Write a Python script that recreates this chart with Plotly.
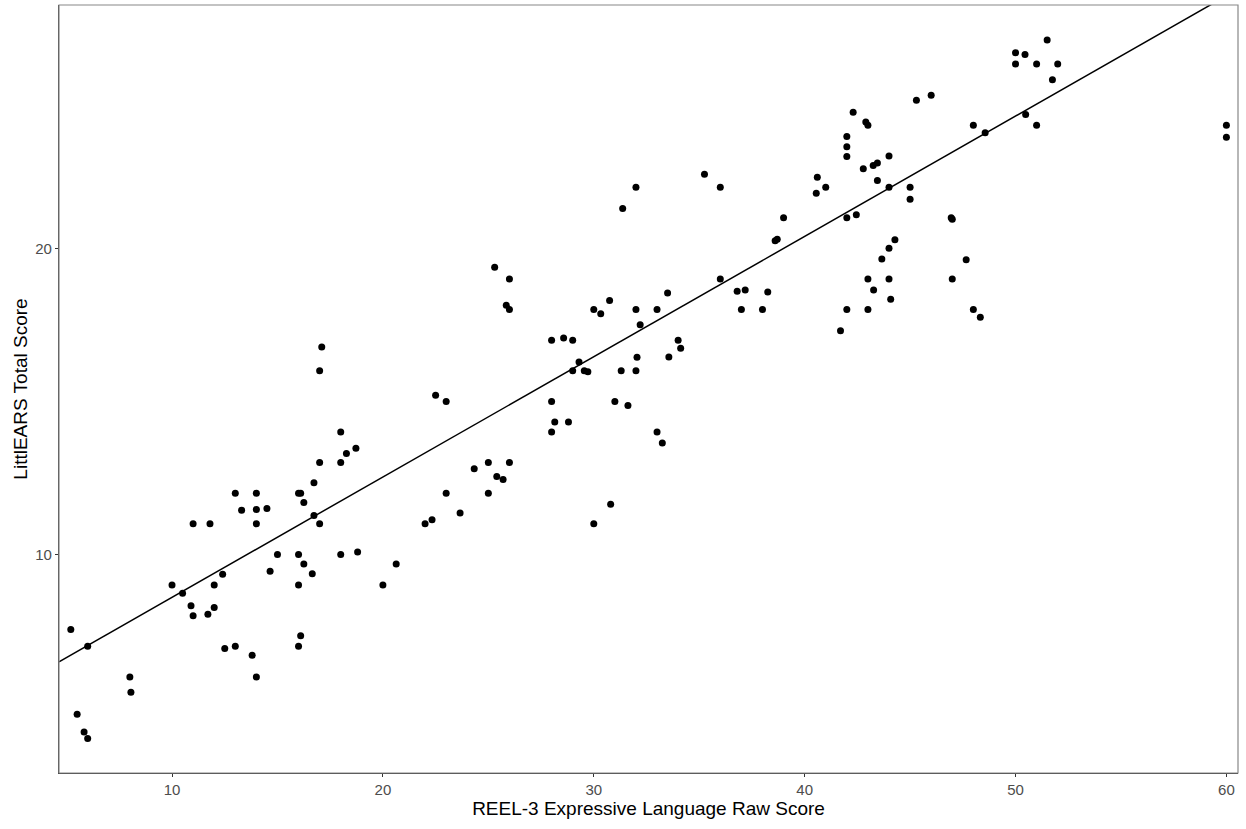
import numpy as np
import plotly.graph_objects as go

reel_x = [5.2, 6.0, 5.5, 5.83, 6.0, 8.0, 8.05, 10.0, 10.5, 10.9, 11.0, 11.0, 11.8, 11.7, 12.0, 12.0,
          12.4, 12.5, 13.0, 13.0, 13.3, 13.8, 14.0, 14.0, 14.0, 14.0, 14.5, 14.65, 15.0, 16.0, 16.1,
          16.25, 16.0, 16.25, 16.0, 16.1, 16.0, 16.65, 16.73, 16.73, 17.0, 17.0, 18.0, 18.0, 18.27,
          18.72, 18.0, 18.8, 20.0, 20.63, 17.1, 17.0,
          22.0, 22.33, 23.0, 23.66, 24.33, 25.0, 25.0, 25.4, 25.7, 26.0, 28.0, 28.15, 28.8, 33.0,
          33.25, 30.0, 30.8,
          22.5, 23.0, 28.0, 25.3, 26.0, 25.85, 26.0, 28.0, 28.57, 29.0, 29.3, 29.0, 29.55, 29.72,
          30.0, 30.33, 30.75, 31.37, 32.0, 32.0, 32.2, 32.05, 32.0, 31.3, 31.0, 31.62, 33.0, 33.5,
          34.0, 34.12, 33.56, 35.25, 36.0, 36.0, 36.8, 37.18, 37.0, 38.0, 38.25, 38.6, 38.7, 39.0,
          40.6, 40.55,
          41.0, 42.3, 42.0, 42.0, 42.0, 42.9, 43.0, 42.78, 43.25, 43.45, 44.0, 43.45, 44.0, 42.0,
          42.45, 45.0, 45.0, 45.3, 46.0, 44.28, 44.0, 43.66, 43.0, 44.0, 43.27, 44.08, 42.0, 43.0,
          41.7, 46.95, 47.0, 47.0, 47.66, 48.0, 48.33, 48.0, 48.56, 50.0, 50.0, 50.45, 51.0, 51.5,
          52.0, 51.75, 50.48, 51.0, 60.0, 60.0]

littlears_y = [7.55, 7.0, 4.78, 4.2, 3.99, 6.0, 5.5, 9.0, 8.73, 8.32, 8.0, 11.0, 11.0, 8.05, 8.27, 9.0,
               9.35, 6.93, 7.0, 12.0, 11.44, 6.71, 6.0, 12.0, 11.47, 11.0, 11.5, 9.45, 10.0, 12.0, 12.0,
               11.7, 10.0, 9.69, 9.0, 7.34, 7.0, 9.37, 12.34, 11.27, 13.0, 11.0, 14.0, 13.0, 13.3,
               13.47, 10.0, 10.08, 9.0, 9.69, 16.78, 16.0,
               11.0, 11.13, 12.0, 11.35, 12.8, 13.0, 12.0, 12.55, 12.45, 13.0, 14.0, 14.33, 14.33, 14.0,
               13.64, 11.0, 11.64,
               15.2, 15.0, 15.0, 19.38, 19.0, 18.14, 18.0, 17.0, 17.07, 17.0, 16.29, 16.0, 16.0, 15.97,
               18.0, 17.86, 18.3, 21.3, 22.0, 18.0, 17.5, 16.44, 16.0, 16.0, 15.0, 14.87, 18.0, 18.54,
               17.0, 16.74, 16.45, 22.42, 22.0, 19.0, 18.6, 18.64, 18.0, 18.0, 18.57, 20.25, 20.3, 21.0,
               22.32, 21.8,
               22.0, 24.45, 23.65, 23.32, 23.0, 24.13, 24.02, 22.6, 22.71, 22.79, 23.02, 22.22, 22.0, 21.0,
               21.1, 22.0, 21.6, 24.84, 25.0, 20.28, 20.0, 19.65, 19.0, 19.0, 18.64, 18.34, 18.0, 18.0,
               17.31, 21.0, 20.95, 19.0, 19.63, 18.0, 17.75, 24.02, 23.78, 26.39, 26.02, 26.33, 26.02, 26.81,
               26.02, 25.51, 24.37, 24.02, 24.02, 23.63]

x_range = [4.64, 60.55]
y_range = [2.86, 27.95]
x_ticks = [10, 20, 30, 40, 50, 60]
y_ticks = [10, 20]

# regression line (abline) coefficients
fit_intercept = 4.67
fit_slope = 0.393

x_title = "REEL-3 Expressive Language Raw Score"
y_title = "LittlEARS Total Score"

line_x = np.array(x_range)
line_y = fit_intercept + fit_slope * line_x

fig = go.Figure()
fig.add_trace(go.Scatter(x=line_x, y=line_y, mode="lines",
                         line=dict(color="black", width=1.5), hoverinfo="skip", showlegend=False))
fig.add_trace(go.Scatter(x=reel_x, y=littlears_y, mode="markers",
                         marker=dict(color="black", size=7), showlegend=False))

font_family = "Liberation Sans, Arial, sans-serif"
fig.update_layout(
    width=1246, height=829,
    margin=dict(l=59, r=8, t=5, b=56),
    paper_bgcolor="white", plot_bgcolor="white",
    font=dict(family=font_family),
    shapes=[dict(type="rect", xref="x domain", yref="y domain", x0=0, x1=1, y0=0, y1=1,
                 line=dict(color="#888888", width=1.2), layer="above")],
)
fig.update_xaxes(range=x_range, tickvals=x_ticks, showgrid=False, zeroline=False,
                 showline=True, linecolor="#333333", linewidth=1.2,
                 ticks="outside", ticklen=3, tickcolor="#333333", automargin=False,
                 tickfont=dict(size=15, color="#4d4d4d"),
                 title=dict(text=x_title, font=dict(size=19, color="black"), standoff=3))
fig.update_yaxes(range=y_range, tickvals=y_ticks, showgrid=False, zeroline=False,
                 showline=True, linecolor="#333333", linewidth=1.2,
                 ticks="outside", ticklen=3, tickcolor="#333333", automargin=False,
                 tickfont=dict(size=15, color="#4d4d4d"),
                 title=dict(text=y_title, font=dict(size=19, color="black"), standoff=2))

fig.write_html("out.html", config={"displayModeBar": False},
               post_script="document.body.style.margin='0';document.body.style.overflow='hidden';")
